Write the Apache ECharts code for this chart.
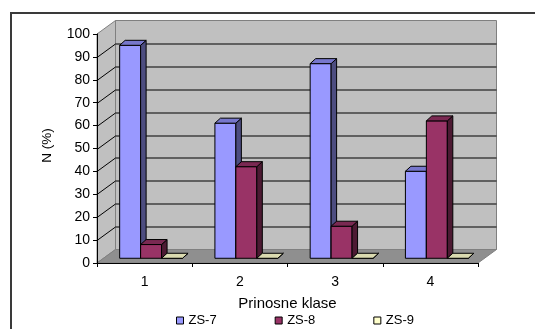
<!DOCTYPE html>
<html>
<head>
<meta charset="utf-8">
<script src="https://cdn.jsdelivr.net/npm/echarts@6/dist/echarts.min.js"></script>
<style>
  html, body { margin: 0; padding: 0; background: #fff; }
  #c { width: 535px; height: 329px; }
</style>
</head>
<body>
<div id="c"></div>
<script>
// Yield classes and the share (%) of each line in them
const categories = ['1', '2', '3', '4'];
const seriesNames = ['ZS-7', 'ZS-8', 'ZS-9'];
const zs7 = [93, 59, 85, 38];
const zs8 = [6, 40, 14, 60];
const zs9 = [0, 0, 0, 0];
const yTicks = [0, 10, 20, 30, 40, 50, 60, 70, 80, 90, 100];

const FONT = '"Liberation Sans", Arial, sans-serif';

// Oblique depth of the chart box and of each column
const WALL = [18.5, -13.5];
const BAR_PLANE = 0.35;
const BAR_DEPTH = [5.5, -5];
const BAR_FRAC = 0.22;

const faces = [
  { front: '#9999FF', top: '#7777CC', side: '#4D4D80' },
  { front: '#993366', top: '#7A2952', side: '#4D1A33' },
  { front: '#FFFFCC', top: '#DADAB0', side: '#808066' }
];

function renderWalls(params, api) {
  const cs = params.coordSys;
  const L = cs.x, R = cs.x + cs.width;
  const dx = WALL[0], dy = WALL[1];
  const y0 = api.coord([0, yTicks[0]])[1];
  const yT = api.coord([0, yTicks[yTicks.length - 1]])[1];
  const edge = { stroke: '#808080', lineWidth: 1 };
  const children = [
    { type: 'polygon', shape: { points: [[L + dx, yT + dy], [R + dx, yT + dy], [R + dx, y0 + dy], [L + dx, y0 + dy]] },
      style: Object.assign({ fill: '#C0C0C0' }, edge) },
    { type: 'polygon', shape: { points: [[L, yT], [L + dx, yT + dy], [L + dx, y0 + dy], [L, y0]] },
      style: Object.assign({ fill: '#C0C0C0' }, edge) },
    { type: 'polygon', shape: { points: [[L, y0], [L + dx, y0 + dy], [R + dx, y0 + dy], [R, y0]] },
      style: Object.assign({ fill: '#8F8F8F' }, edge) }
  ];
  for (let k = 1; k < yTicks.length - 1; k++) {
    const y = Math.round(api.coord([0, yTicks[k]])[1]) + 0.5;
    children.push({
      type: 'polyline',
      shape: { points: [[L, y], [L + dx, y + dy], [R + dx, y + dy]] },
      style: { stroke: '#000', lineWidth: 1, fill: null }
    });
  }
  return { type: 'group', children: children };
}

function barRenderer(sIdx) {
  const c = faces[sIdx];
  return function (params, api) {
    const i = api.value(0), v = api.value(1);
    const W = api.size([1, 0])[0];
    const bw = W * BAR_FRAC;
    const base = api.coord([i, 0]);
    const top = api.coord([i, v]);
    const sx = WALL[0] * BAR_PLANE, sy = WALL[1] * BAR_PLANE;
    const x0 = base[0] + sx + (sIdx - 1.5) * bw;
    const x1 = x0 + bw;
    const yb = base[1] + sy, yt = top[1] + sy;
    const ddx = BAR_DEPTH[0], ddy = BAR_DEPTH[1];
    const line = { stroke: '#000', lineWidth: 1 };
    return {
      type: 'group',
      children: [
        { type: 'polygon', shape: { points: [[x0, yb], [x1, yb], [x1, yt], [x0, yt]] },
          style: Object.assign({ fill: c.front }, line) },
        { type: 'polygon', shape: { points: [[x1, yb], [x1 + ddx, yb + ddy], [x1 + ddx, yt + ddy], [x1, yt]] },
          style: Object.assign({ fill: c.side }, line) },
        { type: 'polygon', shape: { points: [[x0, yt], [x1, yt], [x1 + ddx, yt + ddy], [x0 + ddx, yt + ddy]] },
          style: Object.assign({ fill: c.top }, line) }
      ]
    };
  };
}

const values = [zs7, zs8, zs9];
const barSeries = values.map(function (arr, s) {
  return {
    name: seriesNames[s],
    type: 'custom',
    renderItem: barRenderer(s),
    itemStyle: { color: faces[s].front },
    encode: { x: 0, y: 1 },
    clip: false,
    z: 3,
    data: arr.map(function (v, i) { return [i, v]; })
  };
});

const chart = echarts.init(document.getElementById('c'), null, { renderer: 'canvas' });
chart.setOption({
  animation: false,
  backgroundColor: '#fff',
  textStyle: { fontFamily: FONT },
  graphic: [{
    type: 'rect',
    shape: { x: 11, y: 13, width: 600, height: 400 },
    style: { fill: null, stroke: '#3A3A3A', lineWidth: 2 },
    z: 100
  }],
  grid: { left: 97, right: 57, top: 34, bottom: 66, containLabel: false },
  legend: {
    data: seriesNames,
    left: 176, top: 314, padding: 0,
    icon: 'rect', itemWidth: 7, itemHeight: 7, itemGap: 58,
    itemStyle: { borderColor: '#000', borderWidth: 1 },
    textStyle: { fontFamily: FONT, fontSize: 13, color: '#000' }
  },
  xAxis: {
    type: 'category',
    data: categories,
    z: 10,
    axisLine: { show: true, lineStyle: { color: '#000', width: 1 } },
    axisTick: { show: true, length: 4, lineStyle: { color: '#000' } },
    axisLabel: { color: '#000', fontSize: 14, margin: 12, fontFamily: FONT },
    splitLine: { show: false },
    name: 'Prinosne klase',
    nameLocation: 'middle',
    nameGap: 33,
    nameTextStyle: { color: '#000', fontSize: 15, fontFamily: FONT }
  },
  yAxis: {
    type: 'value',
    min: yTicks[0],
    max: yTicks[yTicks.length - 1],
    interval: yTicks[1] - yTicks[0],
    z: 10,
    axisLine: { show: true, lineStyle: { color: '#000', width: 1 } },
    axisTick: { show: true, length: 4, lineStyle: { color: '#000' } },
    axisLabel: { color: '#000', fontSize: 14, margin: 7, fontFamily: FONT },
    splitLine: { show: false },
    name: 'N (%)',
    nameLocation: 'middle',
    nameGap: 43,
    nameRotate: 90,
    nameTextStyle: { color: '#000', fontSize: 13.5, fontFamily: FONT, padding: [0, 0, 0, 6] }
  },
  series: [{
    type: 'custom',
    name: 'walls',
    renderItem: renderWalls,
    encode: { x: 0, y: 1 },
    clip: false,
    silent: true,
    z: 1,
    data: [[0, 0]]
  }].concat(barSeries)
});
</script>
</body>
</html>
